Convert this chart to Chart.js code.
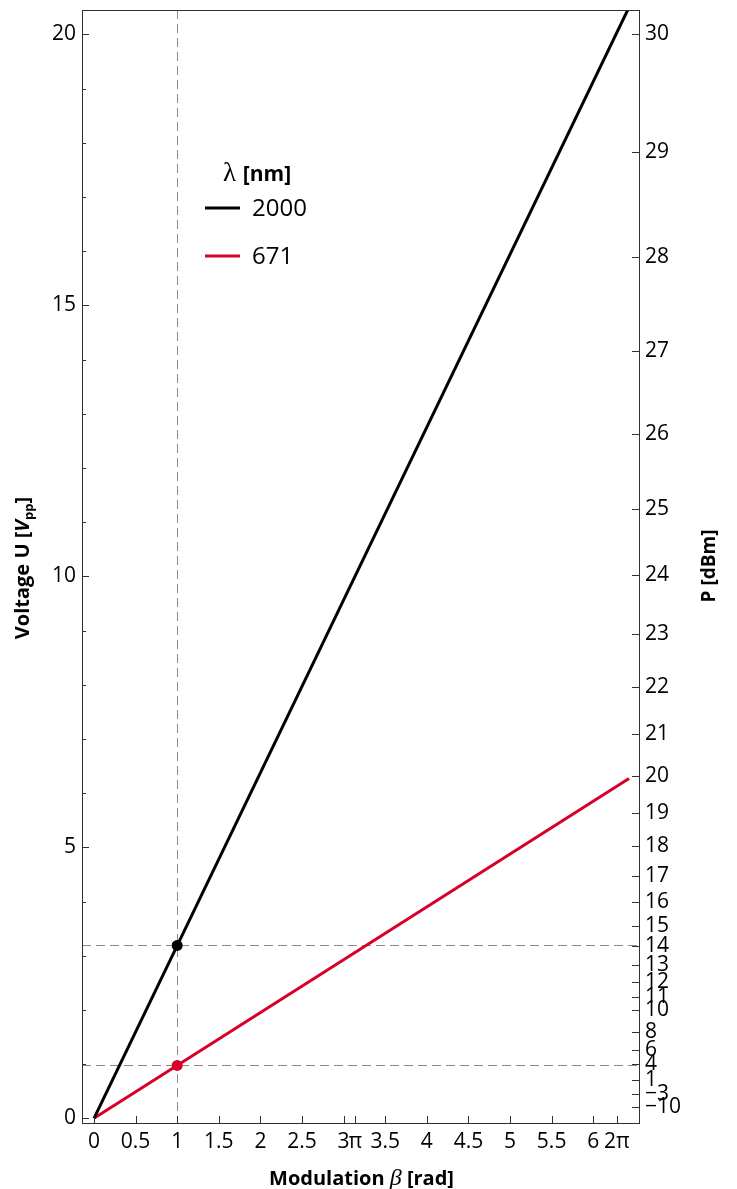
<!DOCTYPE html>
<html>
<head>
<meta charset="utf-8">
<script src="https://cdn.jsdelivr.net/npm/chart.js@4/dist/chart.umd.min.js"></script>
<style>
  html, body { margin: 0; padding: 0; background: #ffffff; }
  #wrap { width: 737px; height: 1189px; position: relative; }
</style>
</head>
<body>
<div id="wrap"><canvas id="c" width="737" height="1189"></canvas></div>
<script>
// Modulation depth beta [rad] and the drive voltage needed for each wavelength
const beta = [0, 6.43];
const voltage2000 = [0, 20.5];
const voltage671 = [0, 6.27];

// Highlighted operating point at beta = 1 rad
const markBeta = [1];
const mark2000 = [3.19];
const mark671 = [0.975];

const seriesNames = ['2000', '671'];
const seriesColors = ['#000000', '#d6002b'];

// Axis ticks
const xTickValues = [0, 0.5, 1, 1.5, 2, 2.5, 3, Math.PI, 3.5, 4, 4.5, 5, 5.5, 6, 2 * Math.PI];
const xTickLabels = ['0', '0.5', '1', '1.5', '2', '2.5', '3', 'π', '3.5', '4', '4.5', '5', '5.5', '6', '2π'];
const uTickValues = [0, 1, 2, 3, 4, 5, 6, 7, 8, 9, 10, 11, 12, 13, 14, 15, 16, 17, 18, 19, 20];
const uTickLabels = ['0', '', '', '', '', '5', '', '', '', '', '10', '', '', '', '', '15', '', '', '', '', '20'];
const dbmTicks = [30, 29, 28, 27, 26, 25, 24, 23, 22, 21, 20, 19, 18, 17, 16, 15, 14, 13, 12, 11, 10, 8, 6, 4, 1, -3, -10];

// Peak-to-peak voltage across 50 Ω that delivers a given power in dBm
function dbmToVpp(p) {
  const watts = Math.pow(10, p / 10) / 1000;
  return 2 * Math.SQRT2 * Math.sqrt(watts * 50);
}

const U_MIN = -0.087, U_MAX = 20.45;
const X_MIN = -0.144, X_MAX = 6.55;
const FONT = "'Open Sans', 'DejaVu Sans', sans-serif";
const SERIF = "'Liberation Serif', 'DejaVu Serif', serif";
const FRAME = '#303030';

function toPoints(xs, ys) { return xs.map((x, i) => ({ x: x, y: ys[i] })); }

function drawRich(ctx, parts, cx, cy) {
  let total = 0;
  parts.forEach(p => { ctx.font = p.font; p.w = ctx.measureText(p.text).width; total += p.w; });
  let x = cx - total / 2;
  ctx.textBaseline = 'alphabetic';
  ctx.textAlign = 'left';
  parts.forEach(p => { ctx.font = p.font; ctx.fillText(p.text, x, cy + (p.dy || 0)); x += p.w; });
}

const decorations = {
  id: 'decorations',
  beforeDatasetsDraw(chart) {
    const { ctx, chartArea: a, scales } = chart;
    ctx.save();
    ctx.strokeStyle = '#8a8a8a';
    ctx.lineWidth = 1;
    ctx.setLineDash([9, 5]);
    markBeta.forEach(b => {
      const px = Math.round(scales.x.getPixelForValue(b)) + 0.5;
      ctx.beginPath(); ctx.moveTo(px, a.top); ctx.lineTo(px, a.bottom); ctx.stroke();
    });
    [mark2000, mark671].forEach(arr => arr.forEach(u => {
      const py = Math.round(scales.y.getPixelForValue(u)) + 0.5;
      ctx.beginPath(); ctx.moveTo(a.left, py); ctx.lineTo(a.right, py); ctx.stroke();
    }));
    ctx.restore();
  },
  afterDraw(chart) {
    const { ctx, chartArea: a, scales } = chart;
    ctx.save();
    // frame
    ctx.strokeStyle = FRAME;
    ctx.lineWidth = 1;
    ctx.setLineDash([]);
    ctx.strokeRect(Math.round(a.left) + 0.5, Math.round(a.top) + 0.5,
                   Math.round(a.right - a.left), Math.round(a.bottom - a.top));
    // inward tick marks
    ctx.beginPath();
    scales.x.ticks.forEach(t => {
      const px = Math.round(scales.x.getPixelForValue(t.value)) + 0.5;
      ctx.moveTo(px, a.bottom); ctx.lineTo(px, a.bottom - 7);
    });
    scales.y.ticks.forEach(t => {
      const py = Math.round(scales.y.getPixelForValue(t.value)) + 0.5;
      const len = (t.value % 5 === 0) ? 7 : 4;
      ctx.moveTo(a.left, py); ctx.lineTo(a.left + len, py);
    });
    scales.y2.ticks.forEach(t => {
      const py = Math.round(scales.y2.getPixelForValue(t.value)) + 0.5;
      ctx.moveTo(a.right, py); ctx.lineTo(a.right - 7, py);
    });
    ctx.stroke();

    ctx.fillStyle = '#000';
    // x title
    drawRich(ctx, [
      { text: 'Modulation ', font: `bold 20px ${FONT}` },
      { text: 'β', font: `italic 24px ${SERIF}` },
      { text: ' [rad]', font: `bold 20px ${FONT}` }
    ], (a.left + a.right) / 2 + 1, 1185);

    // left title
    ctx.save();
    ctx.translate(29, 568);
    ctx.rotate(-Math.PI / 2);
    drawRich(ctx, [
      { text: 'Voltage U [', font: `bold 20px ${FONT}` },
      { text: 'V', font: `bold italic 20px ${FONT}` },
      { text: 'pp', font: `bold 13px ${FONT}`, dy: 4 },
      { text: ']', font: `bold 20px ${FONT}` }
    ], 0, 0);
    ctx.restore();

    // right title
    ctx.save();
    ctx.translate(715, 566);
    ctx.rotate(-Math.PI / 2);
    drawRich(ctx, [{ text: 'P [dBm]', font: `bold 19px ${FONT}` }], 0, 0);
    ctx.restore();

    // legend
    drawRich(ctx, [
      { text: 'λ ', font: `27px ${SERIF}` },
      { text: '[nm]', font: `bold 21px ${FONT}` }
    ], 257, 181);
    chart.data.datasets.filter(d => d.inLegend).forEach((d, i) => {
      const y = 208 + i * 48;
      ctx.strokeStyle = d.borderColor;
      ctx.lineWidth = 3;
      ctx.beginPath(); ctx.moveTo(205, y); ctx.lineTo(240, y); ctx.stroke();
      ctx.font = `24px ${FONT}`;
      ctx.textAlign = 'left';
      ctx.textBaseline = 'middle';
      ctx.fillText(d.label, 252, y + 1);
    });
    ctx.restore();
  }
};

const fmt = v => String(v).replace('-', '\u2212');
const noPadV = s => { s.paddingTop = 0; s.paddingBottom = 0; };

new Chart(document.getElementById('c'), {
  type: 'scatter',
  data: {
    datasets: [
      { label: seriesNames[0], inLegend: true, data: toPoints(beta, voltage2000), showLine: true,
        borderColor: seriesColors[0], borderWidth: 3, pointRadius: 0, clip: 0, yAxisID: 'y' },
      { label: seriesNames[1], inLegend: true, data: toPoints(beta, voltage671), showLine: true,
        borderColor: seriesColors[1], borderWidth: 3, pointRadius: 0, clip: 0, yAxisID: 'y' },
      { label: seriesNames[0] + ' @ β=1', data: toPoints(markBeta, mark2000),
        backgroundColor: seriesColors[0], borderWidth: 0, pointRadius: 5.5, yAxisID: 'y' },
      { label: seriesNames[1] + ' @ β=1', data: toPoints(markBeta, mark671),
        backgroundColor: seriesColors[1], borderWidth: 0, pointRadius: 5.5, yAxisID: 'y' }
    ]
  },
  options: {
    responsive: false,
    animation: false,
    devicePixelRatio: 1,
    layout: { padding: { top: 10, left: 0, right: 0, bottom: 0 } },
    plugins: { legend: { display: false }, tooltip: { enabled: false } },
    scales: {
      x: {
        type: 'linear', min: X_MIN, max: X_MAX,
        grid: { display: false, drawTicks: false }, border: { display: false },
        afterBuildTicks: s => { s.ticks = xTickValues.map(v => ({ value: v })); },
        afterFit: s => { s.height = 66; s.paddingLeft = 0; s.paddingRight = 0; },
        ticks: {
          autoSkip: false, maxRotation: 0, padding: 6, color: '#000',
          font: { family: FONT, size: 21 },
          callback: (v, i) => xTickLabels[i]
        }
      },
      y: {
        type: 'linear', position: 'left', min: U_MIN, max: U_MAX,
        grid: { display: false, drawTicks: false }, border: { display: false },
        afterBuildTicks: s => { s.ticks = uTickValues.map(v => ({ value: v })); },
        afterFit: s => { s.width = 82; noPadV(s); },
        ticks: {
          autoSkip: false, padding: 6, color: '#000',
          font: { family: FONT, size: 21 },
          callback: (v, i) => uTickLabels[i]
        }
      },
      y2: {
        type: 'linear', position: 'right', min: U_MIN, max: U_MAX,
        grid: { display: false, drawTicks: false }, border: { display: false },
        afterBuildTicks: s => { s.ticks = dbmTicks.map(p => ({ value: dbmToVpp(p) })); },
        afterFit: s => { s.width = 98; noPadV(s); },
        ticks: {
          autoSkip: false, padding: 6, color: '#000',
          font: { family: FONT, size: 21 },
          callback: (v, i) => fmt(dbmTicks[i])
        }
      }
    }
  },
  plugins: [decorations]
});
</script>
</body>
</html>
